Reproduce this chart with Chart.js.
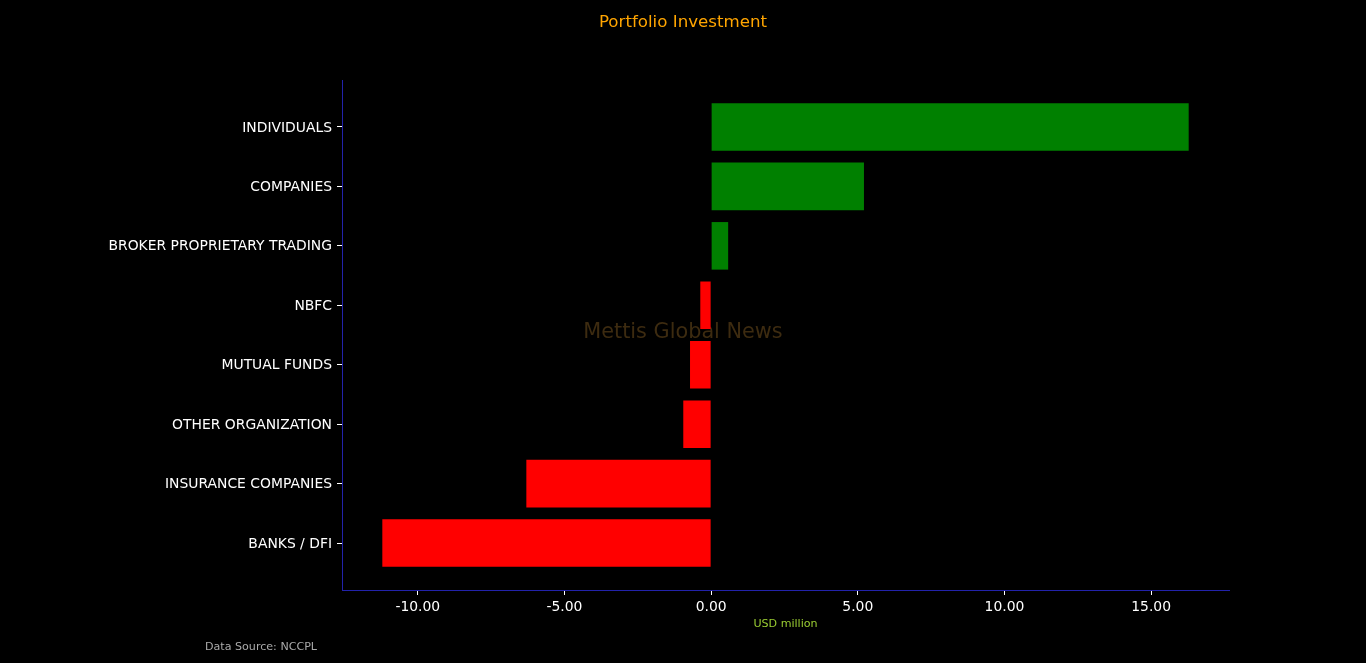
<!DOCTYPE html>
<html>
<head>
<meta charset="utf-8">
<title>Portfolio Investment</title>
<script src="https://cdn.jsdelivr.net/npm/chart.js@4.4.0/dist/chart.umd.min.js"></script>
<style>
  html, body { margin: 0; padding: 0; background: #000; }
  #wrap { width: 1366px; height: 663px; position: relative; }
</style>
</head>
<body>
<div id="wrap"><canvas id="portfolioChart"></canvas></div>
<script>
// data
const categories = ['INDIVIDUALS', 'COMPANIES', 'BROKER PROPRIETARY TRADING', 'NBFC',
                    'MUTUAL FUNDS', 'OTHER ORGANIZATION', 'INSURANCE COMPANIES', 'BANKS / DFI'];
const netValues = [16.28, 5.21, 0.58, -0.37, -0.72, -0.95, -6.30, -11.21];
const xTicks = [-10, -5, 0, 5, 10, 15];

const chartTitle = 'Portfolio Investment';
const xLabel = 'USD million';
const sourceNote = 'Data Source: NCCPL';
const watermark = 'Mettis Global News';

const FONT = "'DejaVu Sans', sans-serif";

// matplotlib-like 5% margins
const lo = Math.min(0, ...netValues), hi = Math.max(0, ...netValues);
const xPad = (hi - lo) * 0.05;
const yLo = -0.4, yHi = categories.length - 1 + 0.4;
const yPad = (yHi - yLo) * 0.05;

const textPlugin = {
    id: 'texts',
    beforeDatasetsDraw(chart) {
        const ctx = chart.ctx;
        ctx.save();
        ctx.font = '20.8px ' + FONT;
        ctx.fillStyle = '#3d2b10';
        ctx.textAlign = 'center';
        ctx.textBaseline = 'middle';
        ctx.fillText(watermark, 683, 333);
        ctx.restore();
    },
    afterDraw(chart) {
        const ctx = chart.ctx;
        const area = chart.chartArea;
        ctx.save();
        ctx.textBaseline = 'middle';
        ctx.textAlign = 'center';
        ctx.font = '16.67px ' + FONT;
        ctx.fillStyle = '#ffa500';
        ctx.fillText(chartTitle, 683, 23);

        ctx.font = '11.1px ' + FONT;
        ctx.fillStyle = '#9acd32';
        ctx.fillText(xLabel, (area.left + area.right) / 2, 624);

        ctx.textAlign = 'left';
        ctx.fillStyle = '#aaaaaa';
        ctx.fillText(sourceNote, 205, 647);
        ctx.restore();
    }
};

const ctxPortfolio = document.getElementById('portfolioChart').getContext('2d');
const portfolioChart = new Chart(ctxPortfolio, {
    type: 'bar',
    data: {
        datasets: [{
            data: netValues.map((v, i) => ({ x: v, y: i })),
            backgroundColor: netValues.map(v => v >= 0 ? '#008000' : '#ff0000'),
            borderWidth: 0,
            categoryPercentage: 1,
            barPercentage: 0.8
        }]
    },
    options: {
        indexAxis: 'y',
        responsive: true,
        maintainAspectRatio: false,
        animation: false,
        layout: { padding: { top: 80, right: 137, bottom: 0, left: 0 } },
        plugins: {
            legend: { display: false },
            tooltip: { enabled: false }
        },
        scales: {
            x: {
                type: 'linear',
                min: lo - xPad,
                max: hi + xPad,
                afterBuildTicks: s => { s.ticks = xTicks.map(v => ({ value: v })); },
                afterFit: s => { s.height = 73; },
                grid: { drawOnChartArea: false, tickLength: 5, tickColor: '#ffffff', tickWidth: 1 },
                border: { color: '#2222aa', width: 1 },
                ticks: {
                    color: '#ffffff',
                    padding: 4,
                    font: { family: FONT, size: 13.9 },
                    maxRotation: 0,
                    callback: v => v.toFixed(2)
                }
            },
            y: {
                type: 'linear',
                reverse: true,
                offset: false,
                min: yLo - yPad,
                max: yHi + yPad,
                afterBuildTicks: s => { s.ticks = categories.map((c, i) => ({ value: i })); },
                afterFit: s => { s.width = 342; },
                grid: { offset: false, drawOnChartArea: false, tickLength: 5, tickColor: '#ffffff', tickWidth: 1 },
                border: { color: '#2222aa', width: 1 },
                ticks: {
                    color: '#ffffff',
                    padding: 5,
                    labelOffset: 1,
                    font: { family: FONT, size: 13.9 },
                    callback: v => categories[v]
                }
            }
        }
    },
    plugins: [textPlugin]
});
</script>
</body>
</html>
